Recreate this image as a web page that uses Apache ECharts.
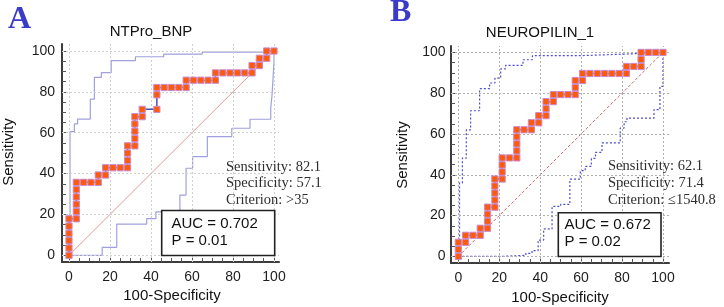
<!DOCTYPE html>
<html>
<head>
<meta charset="utf-8">
<script src="https://cdn.jsdelivr.net/npm/echarts@6.0.0/dist/echarts.min.js"></script>
<style>
html,body{margin:0;padding:0;background:#fff;}
#chart{width:724px;height:307px;}
</style>
</head>
<body>
<div id="chart"></div>
<script>
// ---------- DATA ----------
const titleA = 'NTPro_BNP';
const titleB = 'NEUROPILIN_1';
const majorTicks = [0, 20, 40, 60, 80, 100];
const minorTicks = [5, 10, 15, 25, 30, 35, 45, 50, 55, 65, 70, 75, 85, 90, 95];
const diagonal = [[0, 0], [100, 100]];

// Panel A ROC curve (100-Specificity, Sensitivity)
const rocA = [
  [0,0],[0,3.57],[0,7.14],[0,10.71],[0,14.29],[0,17.86],
  [3.57,17.86],[3.57,21.43],[3.57,25],[3.57,28.57],[3.57,32.14],[3.57,35.71],
  [7.14,35.71],[10.71,35.71],[14.29,35.71],[14.29,39.29],[17.86,39.29],[17.86,42.86],
  [21.43,42.86],[25,42.86],[28.57,42.86],[28.57,46.43],[28.57,50],[28.57,53.57],
  [32.14,53.57],[32.14,57.14],[32.14,60.71],[32.14,64.29],[32.14,67.86],
  [35.71,67.86],[35.71,71.43],[42.86,71.43],[42.86,78.57],[42.86,82.14],
  [46.43,82.14],[50,82.14],[53.57,82.14],[57.14,82.14],[57.14,85.71],
  [60.71,85.71],[64.29,85.71],[67.86,85.71],[71.43,85.71],[71.43,89.29],
  [75,89.29],[78.57,89.29],[82.14,89.29],[85.71,89.29],[89.29,89.29],[89.29,92.86],
  [92.86,92.86],[92.86,96.43],[96.43,96.43],[96.43,100],[100,100]
];
const upperA = [
  [0.5,0],[0.5,60.5],[2.6,60.5],[2.6,64.3],[4.2,64.3],[4.2,66.7],[10.4,66.7],[10.4,76.4],
  [12.4,76.4],[12.4,87.1],[15.8,87.1],[15.8,89.4],[20.6,89.4],[20.6,95.3],[32.4,95.3],
  [32.4,97.2],[46.2,97.2],[46.2,98.5],[65,98.5],[65,99.5],[95,99.5],[100,100]
];
const lowerA = [
  [0,0],[16.2,0],[16.2,3.9],[23.3,3.9],[23.3,15.3],[37.9,15.3],[37.9,18],[42.4,18],
  [42.4,21.3],[54.1,21.3],[54.1,29.5],[57.1,29.5],[57.1,42.6],[60.3,42.6],[60.3,48.3],
  [67.5,48.3],[67.5,58.1],[79.4,58.1],[79.4,62.2],[88.3,62.2],[88.3,66.6],[98.4,66.6],
  [98.4,72],[99,78],[99.5,86],[100,95],[100,100]
];

// Panel B ROC curve
const rocB = [
  [0,0],[0,3.45],[0,6.9],[3.57,6.9],[3.57,10.34],[7.14,10.34],[10.71,10.34],[10.71,13.79],
  [14.29,13.79],[14.29,17.24],[14.29,20.69],[14.29,24.14],[17.86,24.14],[17.86,27.59],
  [17.86,31.03],[17.86,34.48],[17.86,37.93],[21.43,37.93],[21.43,41.38],[21.43,44.83],
  [21.43,48.28],[25,48.28],[28.57,48.28],[28.57,51.72],[28.57,55.17],[28.57,58.62],
  [28.57,62.07],[32.14,62.07],[35.71,62.07],[35.71,65.52],[39.29,65.52],[39.29,68.97],
  [42.86,68.97],[42.86,72.41],[42.86,75.86],[46.43,75.86],[46.43,79.31],[50,79.31],
  [53.57,79.31],[57.14,79.31],[57.14,82.76],[57.14,86.21],[60.71,86.21],[60.71,89.66],
  [64.29,89.66],[67.86,89.66],[71.43,89.66],[75,89.66],[78.57,89.66],[82.14,89.66],
  [82.14,93.1],[85.71,93.1],[89.29,93.1],[89.29,96.55],[89.29,100],[92.86,100],
  [96.43,100],[100,100]
];
const upperB = [
  [0.6,0],[0.6,36],[2,36],[2,48.2],[3.9,48.2],[3.9,62],[6,62],[6,71.4],[10.4,71.4],
  [10.4,82.2],[15.3,82.2],[15.3,85],[17.9,85],[17.9,87.4],[20.7,87.4],[20.7,91.9],
  [23.1,91.9],[23.1,93.6],[31.6,93.6],[31.6,96.4],[36.2,96.4],[36.2,98.4],[60,98.4],
  [60,99.3],[85,99.3],[100,100]
];
const lowerB = [
  [0,0],[21,0],[21,0.5],[33,0.5],[33,1.5],[36,1.5],[36,2.8],[39,2.8],[39,8],[41.7,8],
  [41.7,13.5],[45.8,13.5],[45.8,24.5],[50,24.5],[50,25.5],[54.5,25.5],[54.5,37.9],
  [59.6,37.9],[59.6,42],[62,42],[62,44.1],[65,44.1],[65,48],[67,48],[67,51],[70.2,51],
  [70.2,55.6],[79.1,55.6],[79.1,62.9],[81,62.9],[81,66],[82.4,66],[82.4,67.8],
  [95.6,67.8],[95.6,71.9],[98.5,71.9],[98.5,83.3],[100,83.3],[100,100]
];

const statsA = ['Sensitivity: 82.1', 'Specificity: 57.1', 'Criterion: >35'];
const statsB = ['Sensitivity: 62.1', 'Specificity: 71.4', 'Criterion: \u22641540.8'];
const aucA = ['AUC = 0.702', 'P = 0.01'];
const aucB = ['AUC = 0.672', 'P = 0.02'];

// ---------- CHART ----------
const SANS = '"Liberation Sans", Arial, sans-serif';
const SERIF = '"Liberation Serif", "Times New Roman", serif';

function mkAxis(gridIndex, min, max, pos, major, margin) {
  return {
    type: 'value', gridIndex, min, max, position: pos, offset: 0,
    axisLine: { show: major, onZero: false, lineStyle: { color: '#3c3c3c', width: 2 } },
    axisTick: { show: true, inside: true, length: major ? 6 : 4,
      customValues: major ? majorTicks : minorTicks,
      lineStyle: { color: '#555', width: 1 } },
    axisLabel: { show: major, customValues: majorTicks, margin: margin,
      fontSize: 14, color: '#1e1e1e', fontFamily: SANS },
    splitLine: { show: false }
  };
}

function gridMarks(color, type) {
  const d = [];
  majorTicks.forEach(v => { d.push({ xAxis: v }); d.push({ yAxis: v }); });
  return { silent: true, animation: false, symbol: ['none', 'none'], label: { show: false },
    lineStyle: { color, width: 1, type }, emphasis: { disabled: true }, data: d };
}

function rocSeries(data, xi, yi) {
  return { type: 'line', xAxisIndex: xi, yAxisIndex: yi, data, z: 6,
    symbol: 'rect', symbolSize: 6.2, showAllSymbol: true,
    itemStyle: { color: '#ff5a0a', borderColor: '#c98bcd', borderWidth: 1 },
    lineStyle: { color: '#4f4fb0', width: 1.5 }, animation: false };
}
function bandSeries(data, xi, yi, color, type) {
  return { type: 'line', xAxisIndex: xi, yAxisIndex: yi, data, symbol: 'none', z: 3,
    lineStyle: { color, width: 1.2, type }, animation: false };
}

const graphic = [];
function txt(text, x, y, font, fill, align, rot) {
  graphic.push({ type: 'text', x, y, rotation: rot || 0, z: 100,
    style: { text, x: 0, y: 0, font, fill, align: align || 'left', verticalAlign: 'middle',
      textAlign: align || 'left', textVerticalAlign: 'middle' } });
}
function box(x, y, w, h) {
  graphic.push({ type: 'rect', z: 99, shape: { x, y, width: w, height: h },
    style: { fill: '#fff', stroke: '#222', lineWidth: 1.6 } });
}

// Panel letters & titles
txt('A', 8, 20, 'bold 32px ' + SERIF, '#3b3bc9');
txt('B', 390, 12.5, 'bold 32px ' + SERIF, '#3b3bc9');
txt(titleA, 151, 31.5, '15px ' + SANS, '#111', 'center');
txt(titleB, 540, 32.5, '15px ' + SANS, '#111', 'center');
// axis names
txt('100-Specificity', 172, 296, '15px ' + SANS, '#111', 'center');
txt('100-Specificity', 560, 298, '15px ' + SANS, '#111', 'center');
txt('Sensitivity', 8.5, 152, '15px ' + SANS, '#111', 'center', Math.PI / 2);
txt('Sensitivity', 403, 155, '15px ' + SANS, '#111', 'center', Math.PI / 2);
// stats
statsA.forEach((s, i) => txt(s, 226, 166.7 + i * 16.6, '14.5px ' + SERIF, '#2e2e2e'));
statsB.forEach((s, i) => txt(s, 608, 166 + i * 17.2, '14.5px ' + SERIF, '#2e2e2e'));
// AUC boxes
box(161.7, 210.5, 113, 45);
aucA.forEach((s, i) => txt(s, 171.5, 223.5 + i * 17, '15px ' + SANS, '#111'));
box(558.3, 212.7, 102.7, 43.8);
aucB.forEach((s, i) => txt(s, 564.5, 224.8 + i * 17, '15px ' + SANS, '#111'));

const option = {
  animation: false,
  backgroundColor: '#fff',
  grid: [
    { left: 62, top: 44, width: 217, height: 218 },
    { left: 451, top: 46, width: 218, height: 217 }
  ],
  xAxis: [
    mkAxis(0, -3.41, 102.44, 'bottom', true, 8),
    mkAxis(0, -3.41, 102.44, 'bottom', false, 8),
    mkAxis(1, -3.57, 102.93, 'bottom', true, 8),
    mkAxis(1, -3.57, 102.93, 'bottom', false, 8)
  ],
  yAxis: [
    mkAxis(0, -3.28, 103.43, 'left', true, 7),
    mkAxis(0, -3.28, 103.43, 'left', false, 7),
    mkAxis(1, -3.24, 103.13, 'left', true, 5.5),
    mkAxis(1, -3.24, 103.13, 'left', false, 5.5)
  ],
  series: [
    { type: 'line', xAxisIndex: 0, yAxisIndex: 0, data: diagonal, symbol: 'none', z: 2,
      lineStyle: { color: '#dd9a9a', width: 1 }, markLine: gridMarks('#cfcfcf', [2, 2]) },
    bandSeries(upperA, 0, 0, '#a0a0de', 'solid'),
    bandSeries(lowerA, 0, 0, '#a0a0de', 'solid'),
    rocSeries(rocA, 0, 0),
    { type: 'line', xAxisIndex: 2, yAxisIndex: 2, data: diagonal, symbol: 'none', z: 2,
      lineStyle: { color: '#c46a6a', width: 1, type: [3, 2] }, markLine: gridMarks('#b0b0b0', [2, 2]) },
    bandSeries(upperB, 2, 2, '#4d4dd2', [2, 2]),
    bandSeries(lowerB, 2, 2, '#4d4dd2', [2, 2]),
    rocSeries(rocB, 2, 2)
  ],
  graphic
};

const chart = echarts.init(document.getElementById('chart'), null, { renderer: 'canvas' });
chart.setOption(option);
</script>
</body>
</html>
